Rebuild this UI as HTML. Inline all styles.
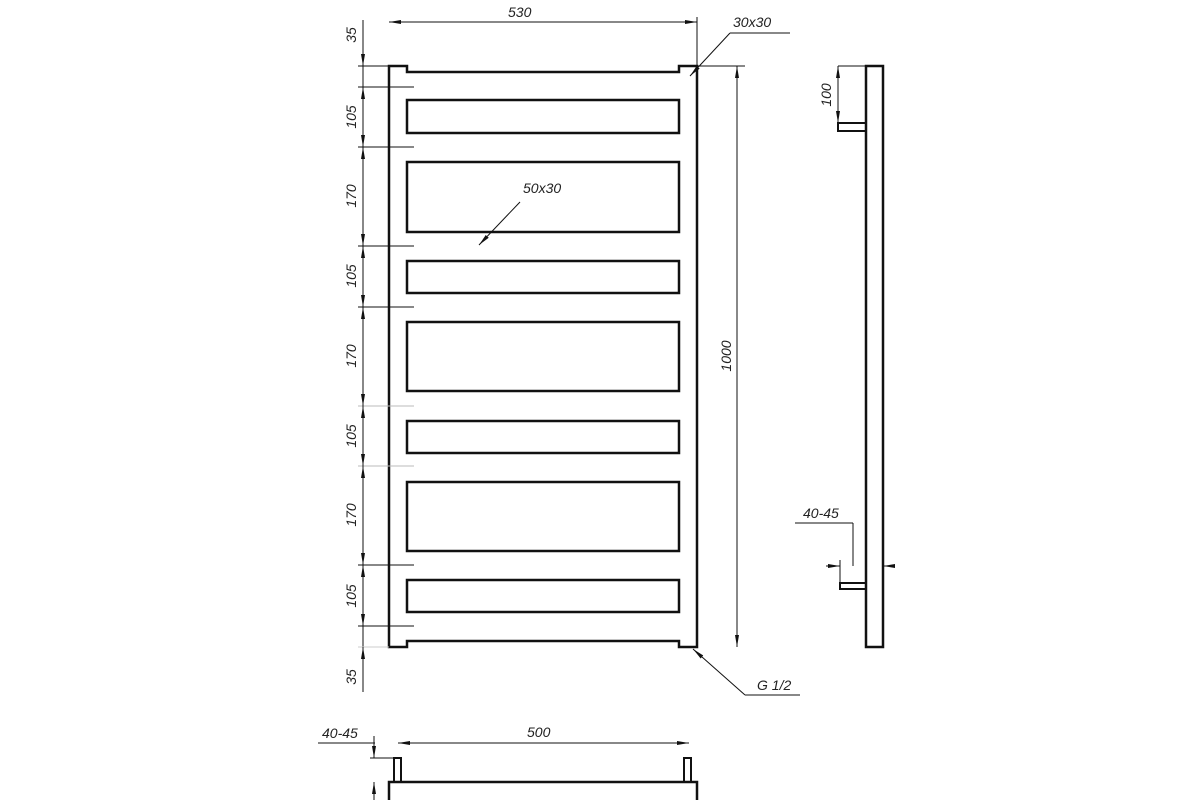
<!DOCTYPE html>
<html><head><meta charset="utf-8"><style>html,body{margin:0;padding:0;background:#fff}svg{display:block}text{font-family:"Liberation Sans",sans-serif;font-style:italic;font-size:14px;fill:#222}</style></head>
<body>
<svg width="1200" height="800" viewBox="0 0 1200 800" xmlns="http://www.w3.org/2000/svg">
<defs>
<marker id="a" viewBox="0 0 12 6" refX="12" refY="3" markerWidth="12" markerHeight="6" orient="auto-start-reverse" markerUnits="userSpaceOnUse"><path d="M0,1 L12,3 L0,5z" fill="#111"/></marker>
</defs>
<g fill="none" stroke="#111">
<!-- main frame -->
<path d="M389,66 H407 V72 H679 V66 H697 V647 H679 V641 H407 V647 H389 Z" stroke-width="2.5"/>
<g stroke-width="2.5">
<rect x="407" y="100" width="272" height="33"/>
<rect x="407" y="162" width="272" height="70"/>
<rect x="407" y="261" width="272" height="32"/>
<rect x="407" y="322" width="272" height="69"/>
<rect x="407" y="421" width="272" height="32"/>
<rect x="407" y="482" width="272" height="69"/>
<rect x="407" y="580" width="272" height="32"/>
</g>
<!-- left dims -->
<g stroke-width="1">
<line x1="363" y1="20" x2="363" y2="692"/>
<line x1="358" y1="66" x2="389" y2="66"/>
<line x1="358" y1="87" x2="414" y2="87"/>
<line x1="358" y1="147" x2="414" y2="147"/>
<line x1="358" y1="246" x2="414" y2="246"/>
<line x1="358" y1="307" x2="414" y2="307"/>
<line x1="358" y1="406" x2="414" y2="406" stroke="#bbb"/>
<line x1="358" y1="466" x2="414" y2="466" stroke="#bbb"/>
<line x1="358" y1="565" x2="414" y2="565"/>
<line x1="358" y1="626" x2="414" y2="626"/>
<line x1="358" y1="647" x2="389" y2="647" stroke="#ccc"/>
<line x1="363" y1="40" x2="363" y2="66" marker-end="url(#a)"/>
<line x1="363" y1="87" x2="363" y2="147" marker-start="url(#a)" marker-end="url(#a)"/>
<line x1="363" y1="147" x2="363" y2="246" marker-start="url(#a)" marker-end="url(#a)"/>
<line x1="363" y1="246" x2="363" y2="307" marker-start="url(#a)" marker-end="url(#a)"/>
<line x1="363" y1="307" x2="363" y2="406" marker-start="url(#a)" marker-end="url(#a)"/>
<line x1="363" y1="406" x2="363" y2="466" marker-start="url(#a)" marker-end="url(#a)"/>
<line x1="363" y1="466" x2="363" y2="565" marker-start="url(#a)" marker-end="url(#a)"/>
<line x1="363" y1="565" x2="363" y2="626" marker-start="url(#a)" marker-end="url(#a)"/>
<line x1="363" y1="672" x2="363" y2="647" marker-end="url(#a)"/>
<!-- top dim -->
<line x1="389" y1="22" x2="697" y2="22" marker-start="url(#a)" marker-end="url(#a)"/>
<line x1="697" y1="17" x2="697" y2="66"/>
<!-- 30x30 leader -->
<line x1="730" y1="33" x2="790" y2="33"/>
<line x1="730" y1="33" x2="690" y2="76" marker-end="url(#a)"/>
<!-- 50x30 leader -->
<line x1="520" y1="202" x2="479" y2="245" marker-end="url(#a)"/>
<!-- 1000 dim -->
<line x1="697" y1="66" x2="745" y2="66"/>
<line x1="737" y1="66" x2="737" y2="647" marker-start="url(#a)" marker-end="url(#a)"/>
<!-- G1/2 -->
<line x1="745" y1="695" x2="800" y2="695"/>
<line x1="745" y1="695" x2="693" y2="649" marker-end="url(#a)"/>
<!-- side view dims -->
<line x1="838" y1="66" x2="866" y2="66"/>
<line x1="838" y1="66" x2="838" y2="123" marker-start="url(#a)" marker-end="url(#a)"/>
<line x1="795" y1="523" x2="853" y2="523"/>
<line x1="853" y1="523" x2="853" y2="566"/>
<line x1="840" y1="560" x2="840" y2="583"/>
<line x1="826" y1="566" x2="840" y2="566" marker-end="url(#a)"/>
<line x1="895" y1="566" x2="883" y2="566" marker-end="url(#a)"/>
<!-- bottom view dims -->
<line x1="398" y1="743" x2="689" y2="743" marker-start="url(#a)" marker-end="url(#a)"/>
<line x1="318" y1="743" x2="375" y2="743"/>
<line x1="370" y1="758" x2="394" y2="758"/>
<line x1="374" y1="736" x2="374" y2="758" marker-end="url(#a)"/>
<line x1="374" y1="800" x2="374" y2="782" marker-end="url(#a)"/>
</g>
<!-- side view -->
<g stroke-width="2.5">
<rect x="866" y="66" width="17" height="581"/>
<rect x="838" y="123" width="28" height="8" stroke-width="2"/>
<rect x="840" y="583" width="26" height="6" stroke-width="2"/>
<!-- bottom view -->
<rect x="389" y="782" width="308" height="20"/>
<rect x="394" y="758" width="7" height="24" stroke-width="2"/>
<rect x="684" y="758" width="7" height="24" stroke-width="2"/>
</g>
</g>
<!-- texts -->
<text x="508" y="17">530</text>
<text x="733" y="27">30x30</text>
<text x="523" y="193">50x30</text>
<text x="757" y="690">G 1/2</text>
<text x="803" y="518">40-45</text>
<text x="322" y="738">40-45</text>
<text x="527" y="737">500</text>
<g text-anchor="middle">
<text transform="translate(356,35) rotate(-90)">35</text>
<text transform="translate(356,117) rotate(-90)">105</text>
<text transform="translate(356,196) rotate(-90)">170</text>
<text transform="translate(356,276) rotate(-90)">105</text>
<text transform="translate(356,356) rotate(-90)">170</text>
<text transform="translate(356,436) rotate(-90)">105</text>
<text transform="translate(356,515) rotate(-90)">170</text>
<text transform="translate(356,596) rotate(-90)">105</text>
<text transform="translate(356,677) rotate(-90)">35</text>
<text transform="translate(731,356) rotate(-90)">1000</text>
<text transform="translate(831,95) rotate(-90)">100</text>
</g>
</svg>
</body></html>
